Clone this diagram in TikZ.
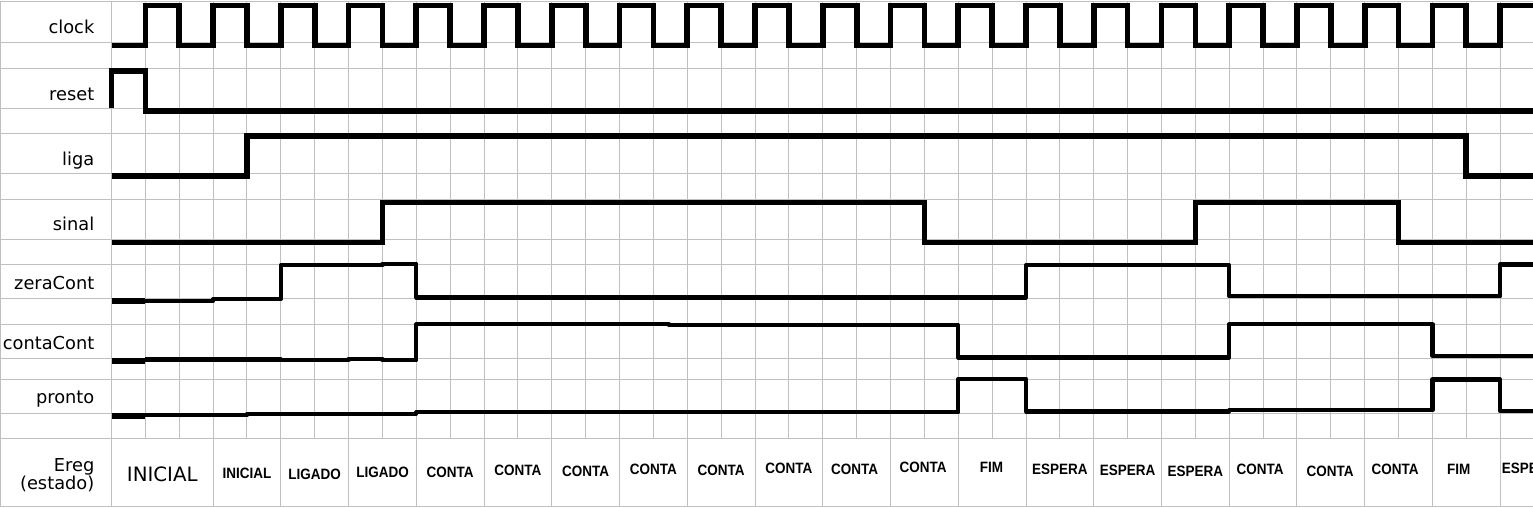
\documentclass[tikz,border=0pt]{standalone}
\usepackage{fontspec}
\setmainfont{DejaVu Sans}
\newfontfamily\statefont{Liberation Sans}
\usepackage{graphicx}
\definecolor{gridgray}{RGB}{192,192,192}
\begin{document}
\begin{tikzpicture}[x=1pt,y=-1pt,
  gridline/.style={draw=gridgray, line width=1pt},
  sigA/.style={line width=5.7pt},
  sigB/.style={line width=4.2pt, line join=round},
  sigC/.style={line width=6pt},
  siglabel/.style={anchor=base east, inner sep=0pt, font=\fontsize{17.8}{18.5}\selectfont},
  stlabel/.style={anchor=base, inner sep=0pt, font=\statefont\bfseries\fontsize{15}{18}\selectfont},
]
\clip (0,0) rectangle (1533,507);
\fill[white] (0,0) rectangle (1533,507);
% grid
\foreach \y in {1,42.7,68.3,108.3,133.3,173.3,199.3,239.3,264.3,298.3,324,358.3,379,413.3,438.3,506}
  \draw[gridline] (0,\y) -- (1533,\y);
\draw[gridline] (0.5,1) -- (0.5,506);
\foreach \k in {0,...,41}
  \draw[gridline] ({111.5+33.87*\k},1) -- ({111.5+33.87*\k},438.3);
\foreach \k in {0,3,5,...,41}
  \draw[gridline] ({111.5+33.87*\k},438.3) -- ({111.5+33.87*\k},506);
% signal labels
\node[siglabel] (lclock) at (94.5,33) {clock};
\node[siglabel] (lreset) at (94.5,100) {reset};
\node[siglabel] (lliga) at (94.5,165) {liga};
\node[siglabel] (lsinal) at (94.5,230) {sinal};
\node[siglabel] (lzera) at (94.5,289.3) {zeraCont};
\node[siglabel] (lconta) at (94.5,349.3) {contaCont};
\node[siglabel] (lpronto) at (94.5,403.3) {pronto};
\node[anchor=north east, align=right, inner sep=0pt, font=\fontsize{17.8}{18.5}\selectfont] (lereg) at (94.5,458.3) {Ereg\\(estado)};
% state labels
\node[anchor=base, inner sep=0pt, font=\fontsize{19.8}{22}\selectfont] (s0) at (162.3,481) {INICIAL};
\foreach \x/\y/\t [count=\n] in {
  247/478.3/INICIAL, 314.7/479/LIGADO, 382.5/477.3/LIGADO, 450.2/477.3/CONTA,
  517.9/475.7/CONTA, 585.7/476/CONTA, 653.4/474.3/CONTA, 721.2/475/CONTA,
  788.9/473.3/CONTA, 854.5/474/CONTA, 923/472.7/CONTA, 991.5/472.7/FIM,
  1059.9/474/ESPERA, 1127.6/475/ESPERA, 1195.3/476/ESPERA, 1260/474.3/CONTA,
  1330/476.7/CONTA, 1395/474.3/CONTA, 1458.8/474.3/FIM, 1529.5/473.3/ESPERA}
  \node[stlabel] (s\n) at (\x,\y) {\scalebox{0.9}[1]{\t}};
% waveforms
\begin{scope}[shift={(111.5,0)}, x=33.87pt]
  % clock
  \draw[sigA] (0,45.5) foreach \i in {1,3,...,39} { -- (\i,45.5) -- (\i,5.5) -- ({\i+1},5.5) -- ({\i+1},45.5) }
     -- (41,45.5) -- (41,5.5) -- (42.5,5.5);
  % reset
  \draw[sigA] (0,108.3) -- (0,71.3) -- (1,71.3) -- (1,111.3) -- (42.5,111.3);
  % liga
  \draw[sigA] (0,176.3) -- (4,176.3) -- (4,136.3) -- (40,136.3) -- (40,176.3) -- (42.5,176.3);
  % sinal
  \draw[sigA] (0,242.5) -- (8,242.5) -- (8,202.5) -- (24,202.5) -- (24,242.5) -- (32,242.5)
     -- (32,202.5) -- (38,202.5) -- (38,242.5) -- (42.5,242.5);
  % zeraCont
  \draw[sigC] (0,301.3) -- (1,301.3);
  \draw[sigB] (1,301) -- (3,301) -- (3,299.3) -- (5,299.3) -- (5,265.3) -- (8,265.3) -- (8,263.8)
     -- (9,263.8) -- (9,297.5) -- (27,297.5) -- (27,265.3) -- (33,265.3) -- (33,296.3)
     -- (41,296.3) -- (41,264.5) -- (42.5,264.5);
  % contaCont
  \draw[sigC] (0,360.5) -- (1,360.5);
  \draw[sigB] (1,359.5) -- (5,359.5) -- (5,360.3) -- (7,360.3) -- (7,359.2) -- (8,359.2) -- (8,360.3)
     -- (9,360.3) -- (9,324.3) -- (16.46,324.3) -- (16.46,325.3) -- (25,325.3) -- (25,357.5)
     -- (33,357.5) -- (33,324.3) -- (39,324.3) -- (39,355.8) -- (42.5,355.8);
  % pronto
  \draw[sigC] (0,416.3) -- (1,416.3);
  \draw[sigB] (1,415.3) -- (4,415.3) -- (4,413.7) -- (9,413.7) -- (9,412.3) -- (25,412.3) -- (25,379)
     -- (27,379) -- (27,411.5) -- (33,411.5) -- (33,410.3) -- (39,410.3) -- (39,379.5)
     -- (41,379.5) -- (41,411.3) -- (42.5,411.3);
\end{scope}
\end{tikzpicture}
\end{document}
